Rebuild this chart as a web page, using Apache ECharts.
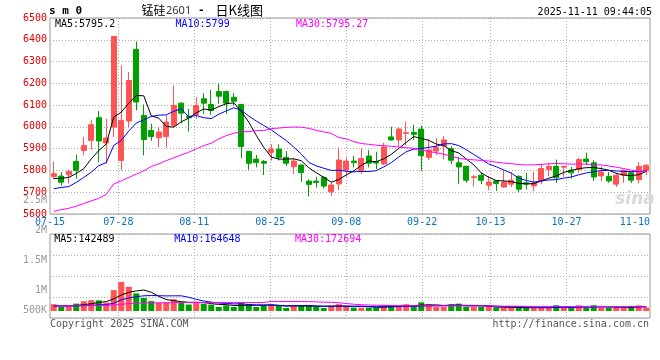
<!DOCTYPE html>
<html><head><meta charset="utf-8">
<script src="https://cdn.jsdelivr.net/npm/echarts@6/dist/echarts.min.js"></script>
<style>html,body{margin:0;padding:0;background:#fff}#c{width:660px;height:360px}</style>
</head><body><div id="c"></div>
<script>
// ---------- data ----------
const dates = ['07-15','07-16','07-17','07-18','07-21','07-22','07-23','07-24','07-25','07-28','07-29','07-30','07-31','08-01','08-04','08-05','08-06','08-07','08-08','08-11','08-12','08-13','08-14','08-15','08-18','08-19','08-20','08-21','08-22','08-25','08-26','08-27','08-28','08-29','09-01','09-02','09-03','09-04','09-05','09-08','09-09','09-10','09-11','09-12','09-15','09-16','09-17','09-18','09-19','09-22','09-23','09-24','09-25','09-26','09-29','09-30','10-09','10-10','10-13','10-14','10-15','10-16','10-17','10-20','10-21','10-22','10-23','10-24','10-27','10-28','10-29','10-30','10-31','11-03','11-04','11-05','11-06','11-07','11-10','11-11'];
const openP  = [5772,5774,5780,5841,5892,5938,6042,5926,5999,5846,6027,6356,6053,5984,5950,5956,6007,6109,6049,6057,6129,6103,6162,6162,6136,6103,5887,5852,5841,5883,5898,5860,5817,5825,5751,5751,5768,5702,5738,5802,5843,5799,5866,5840,5830,5954,5940,5970,5975,5990,5860,5889,5912,5900,5835,5819,5768,5778,5732,5752,5724,5737,5773,5743,5729,5752,5804,5819,5815,5801,5804,5852,5835,5775,5773,5737,5778,5789,5758,5798];
const closeP = [5785,5746,5795,5800,5915,6010,5935,5949,6415,6030,6213,6114,5942,5956,5976,6022,6099,6063,6042,6098,6109,6075,6141,6109,6118,5910,5833,5836,5833,5898,5860,5833,5843,5790,5736,5745,5728,5733,5848,5843,5836,5855,5833,5834,5908,5940,5990,5973,5966,5868,5894,5905,5940,5847,5816,5755,5771,5755,5747,5740,5747,5755,5714,5737,5743,5809,5819,5766,5818,5789,5850,5840,5770,5793,5752,5778,5801,5755,5819,5824];
const lowP   = [5760,5731,5740,5762,5869,5895,5838,5831,5953,5800,5999,6076,5869,5936,5907,5904,5994,6017,5978,6037,6060,6055,6106,6060,6098,5856,5803,5814,5779,5845,5845,5820,5784,5748,5680,5721,5718,5684,5710,5771,5814,5784,5814,5805,5825,5937,5909,5916,5940,5799,5848,5871,5852,5829,5737,5743,5727,5737,5709,5706,5722,5724,5701,5712,5705,5737,5773,5743,5770,5763,5789,5824,5752,5752,5743,5724,5743,5743,5740,5778];
const highP  = [5841,5792,5805,5873,5953,6033,6073,6037,6415,6282,6252,6392,6103,6014,5999,6053,6190,6113,6083,6136,6155,6170,6200,6167,6155,6105,5890,5871,5848,5920,5920,5889,5855,5828,5759,5771,5774,5748,5905,5860,5866,5901,5893,5886,5927,6001,5996,6024,6010,6006,5943,5947,5958,5911,5862,5822,5778,5789,5775,5756,5801,5793,5778,5789,5793,5829,5832,5850,5822,5816,5858,5882,5847,5819,5793,5789,5804,5793,5839,5829];
const volume = [262000,154000,158000,284000,375000,418000,412000,327000,803000,1121000,933000,679000,505000,379000,322000,328000,452000,323000,249000,326000,284000,246000,158000,219000,157000,314000,258000,153000,223000,245000,196000,118000,193000,224000,218000,157000,116000,197000,262000,194000,131000,128000,133000,129000,223000,218000,155000,262000,158000,336000,261000,154000,157000,248000,283000,157000,155000,154000,158000,129000,132000,128000,131000,127000,133000,129000,131000,222000,128000,132000,219000,131000,223000,128000,132000,129000,131000,196000,219000,133000];
const ma5Head  = [5763,5764,5768,5786];
const ma10Head = [5716,5722,5726,5745,5768,5792,5822,5836,5915];
const ma30Head = [5612,5620,5626,5636,5648,5660,5672,5690,5738,5752,5768,5783,5798,5818,5830,5845,5858,5871,5884,5899,5914,5925,5945,5960,5971,5978,5978,5983,5983];
const vma5Head  = [195000,196000,194000,207000];
const vma10Head = [196000,195000,193000,197000,208000,221000,234000,247000,299000];
const vma30Head = [196000,195000,196000,197000,201000,208000,209000,214000,234000,260000,286000,299000,312000,313000,315000,318000,322000,324000,325000,326000,325000,326000,324000,325000,326000,325000,324000,326000,325000];
const priceMin = 5600, priceMax = 6500, priceStep = 100;
const axisDates = ['07-15','07-28','08-11','08-25','09-08','09-22','10-13','10-27','11-10'];
const volTickLabels = ['500K','1M','1.5M','2M','2.5M'];
const titleParts = ['锰硅', '2601', '-', '日K线图'];
const codeText = 's m 0';
const timeText = '2025-11-11 09:44:05';
const priceLegend = ['MA5:5795.2','MA10:5799','MA30:5795.27'];
const volLegend = ['MA5:142489','MA10:164648','MA30:172694'];
const copyText = 'Copyright 2025 SINA.COM';
const urlText = 'http://finance.sina.com.cn';

// ---------- helpers ----------
function movingAvg(arr, n, head) {
  return arr.map((_, i) => {
    if (i < n - 1) return head[i];
    let s = 0; for (let k = i - n + 1; k <= i; k++) s += arr[k];
    return +(s / n).toFixed(2);
  });
}
const RED = '#ff5454', GREEN = '#00a000';
const MONO = "'DejaVu Sans Mono', monospace";
const CJK = "'Noto Sans CJK SC', sans-serif";
const labelIdx = axisDates.map(d => dates.indexOf(d));
const lastLabelIdx = labelIdx[labelIdx.length - 1];
const gridLineIdx = labelIdx.slice(1, -1);
const kData = dates.map((_, i) => [openP[i], closeP[i], lowP[i], highP[i]]);
const volData = volume.map((v, i) => ({ value: v, itemStyle: { color: closeP[i] >= openP[i] ? RED : GREEN } }));
const ma5 = movingAvg(closeP, 5, ma5Head), ma10 = movingAvg(closeP, 10, ma10Head), ma30 = movingAvg(closeP, 30, ma30Head);
const vma5 = movingAvg(volume, 5, vma5Head), vma10 = movingAvg(volume, 10, vma10Head), vma30 = movingAvg(volume, 30, vma30Head);

const VPX = 38500, VOL_TOP_PX = 77, VOL_BASE_PX = 7;
const dotted = { color: '#aaa', width: 1, type: [1, 2] };

const chart = echarts.init(document.getElementById('c'), null, { renderer: 'canvas' });
const lineS = (name, data, color, xi, yi) => ({ name, type: 'line', data, xAxisIndex: xi, yAxisIndex: yi, showSymbol: false, symbol: 'none', silent: true, z: 5, lineStyle: { width: 1, color }, itemStyle: { color } });
const txt = (text, x, y, fill, font, align) => ({ type: 'text', x, y, silent: true, z: 100, style: { text, fill, font, align: align || 'left', textAlign: align || 'left', verticalAlign: 'middle', textVerticalAlign: 'middle' } });

chart.setOption({
  animation: false,
  backgroundColor: '#fff',
  grid: [
    { left: 50, width: 600, top: 18, height: 196, show: true, borderColor: '#999', borderWidth: 1 },
    { left: 50, width: 600, top: 234, height: 84, show: true, borderColor: '#999', borderWidth: 1 },
    { left: 50, width: 600, top: 200.5, height: 120, show: false }
  ],
  xAxis: [
    { type: 'category', gridIndex: 0, data: dates, boundaryGap: true, show: false, position: 'bottom' },
    { type: 'category', gridIndex: 0, data: dates, boundaryGap: false, position: 'bottom',
      axisLine: { show: false }, axisTick: { show: false },
      axisLabel: { interval: (i) => labelIdx.includes(i), margin: 3, color: '#0a74c4', fontFamily: MONO, fontSize: 10,
        formatter: (v, i) => i === lastLabelIdx ? '{e|' + v + '}' : v,
        rich: { e: { padding: [0, 15, 0, 0], color: '#0a74c4', fontFamily: MONO, fontSize: 10 } } },
      splitLine: { show: true, interval: (i) => gridLineIdx.includes(i), lineStyle: dotted } },
    { type: 'category', gridIndex: 1, data: dates, boundaryGap: true, show: false, position: 'bottom' },
    { type: 'category', gridIndex: 1, data: dates, boundaryGap: false, position: 'bottom',
      axisLine: { show: false }, axisTick: { show: false }, axisLabel: { show: false },
      splitLine: { show: true, interval: (i) => gridLineIdx.includes(i), lineStyle: dotted } },
    { type: 'value', gridIndex: 2, show: false }
  ],
  yAxis: [
    { type: 'value', gridIndex: 0, min: priceMin, max: priceMax, interval: priceStep, position: 'left',
      axisLine: { show: false }, axisTick: { show: false },
      axisLabel: { color: '#e00000', fontFamily: MONO, fontSize: 10, margin: 3, padding: [0, 0, 3, 0], formatter: (v) => String(v) },
      splitLine: { show: true, lineStyle: dotted } },
    { type: 'value', gridIndex: 1, min: -VOL_BASE_PX * VPX, max: VOL_TOP_PX * VPX, show: false, splitLine: { show: false } },
    { type: 'value', gridIndex: 1, min: 0, max: 4, interval: 1, position: 'right',
      axisLine: { show: false }, axisTick: { show: false }, axisLabel: { show: false },
      splitLine: { show: true, lineStyle: dotted } },
    { type: 'value', gridIndex: 2, min: 0.5, max: 2.5, interval: 0.5, position: 'left',
      axisLine: { show: false }, axisTick: { show: false }, splitLine: { show: false },
      axisLabel: { color: '#999', fontFamily: MONO, fontSize: 10, margin: 3,
        formatter: (v) => { const k = Math.round(v / 0.5) - 1; return k === 0 ? '{lo|' + volTickLabels[k] + '}' : volTickLabels[k]; },
        rich: { lo: { padding: [0, 0, 20, 0], color: '#999', fontFamily: MONO, fontSize: 10 } } } }
  ],
  series: [
    { type: 'candlestick', xAxisIndex: 0, yAxisIndex: 0, data: kData, barWidth: 5.2, silent: true,
      itemStyle: { color: RED, color0: GREEN, borderColor: RED, borderColor0: GREEN, borderWidth: 1 } },
    lineS('MA5', ma5, '#000', 0, 0),
    lineS('MA10', ma10, '#0000ff', 0, 0),
    lineS('MA30', ma30, '#ff00ff', 0, 0),
    { type: 'bar', xAxisIndex: 2, yAxisIndex: 1, data: volData, barWidth: 6, silent: true },
    lineS('VMA5', vma5, '#000', 2, 1),
    lineS('VMA10', vma10, '#0000ff', 2, 1),
    lineS('VMA30', vma30, '#ff00ff', 2, 1)
  ],
  graphic: [
    { type: 'text', x: 49, y: 11, silent: true, style: { text: codeText, fill: '#000', font: "bold 11px 'DejaVu Sans Mono', monospace", verticalAlign: 'middle', textVerticalAlign: 'middle' } },
    txt(titleParts[0], 141.5, 10.5, '#000', '12px ' + CJK),
    txt(titleParts[1], 166, 11, '#333', "11px 'Noto Sans', sans-serif"),
    txt(titleParts[2], 199, 10.5, '#000', "bold 11px 'DejaVu Sans', sans-serif"),
    txt(titleParts[3], 215.5, 10.5, '#000', '13px ' + CJK),
    txt(timeText, 652, 12, '#000', '10px ' + MONO, 'right'),
    txt(priceLegend[0], 55, 24, '#000', '10px ' + MONO),
    txt(priceLegend[1], 175.5, 24, '#0000ff', '10px ' + MONO),
    txt(priceLegend[2], 296, 24, '#ff00ff', '10px ' + MONO),
    txt(volLegend[0], 54.3, 239.5, '#000', '10px ' + MONO),
    txt(volLegend[1], 174.3, 239.5, '#0000ff', '10px ' + MONO),
    txt(volLegend[2], 295, 239.5, '#ff00ff', '10px ' + MONO),
    txt(copyText, 50, 324, '#555', '10px ' + MONO),
    txt(urlText, 649, 324, '#555', '10px ' + MONO, 'right'),
    txt('sina', 635, 200, '#d9d9d9', "italic bold 17px 'DejaVu Sans', sans-serif", 'center')
  ]
});
</script></body></html>
